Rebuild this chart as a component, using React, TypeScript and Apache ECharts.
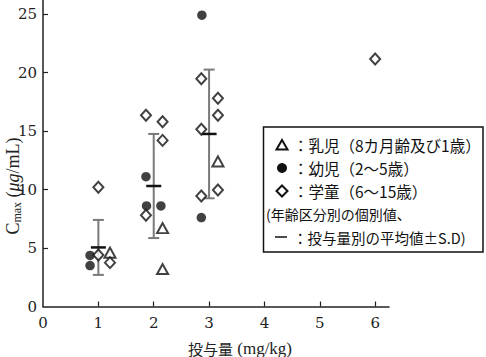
import React, { useEffect, useRef } from "react";
import * as echarts from "echarts";

// Individual values by age group: [dose (jittered position), Cmax]
const infantPoints: number[][] = [
  [1.21, 4.6], [2.16, 6.7], [2.16, 3.2], [3.16, 12.4],
];
const toddlerPoints: number[][] = [
  [0.85, 4.37], [0.85, 3.5], [1.86, 11.1], [1.87, 8.6], [2.13, 8.6], [2.87, 24.9], [2.86, 7.6],
];
const schoolPoints: number[][] = [
  [1.0, 10.2], [1.0, 4.4], [1.21, 3.75],
  [1.86, 16.35], [2.16, 15.8], [2.16, 14.2], [1.86, 7.8],
  [2.86, 19.47], [3.16, 17.8], [3.16, 16.35], [2.86, 15.15], [2.86, 9.45], [3.16, 9.95],
  [6.0, 21.15],
];

// Mean ± SD by dose
const doses = [1, 2, 3];
const means = [5.05, 10.3, 14.75];
const sds = [2.35, 4.45, 5.5];

const xTicks = [0, 1, 2, 3, 4, 5, 6];
const yTicks = [0, 5, 10, 15, 20, 25];

const legendRows = [
  "：乳児（8カ月齢及び1歳）",
  "：幼児（2～5歳）",
  "：学童（6～15歳）",
  "(年齢区分別の個別値、",
  "：投与量別の平均値±S.D)",
];

const SERIF = "DejaVu Serif";
const SERIF2 = "Liberation Serif";
const CJK = "Noto Sans CJK JP";

export default function App() {
  const ref = useRef<HTMLDivElement>(null);
  useEffect(() => {
    if (!ref.current) return;
    const chart = echarts.init(ref.current, null, { renderer: "svg" });
    const errData = doses.map((d, i) => [d, means[i], sds[i]]);
    const rowY = [145, 168, 191, 214, 237];
    chart.setOption({
      animation: false,
      backgroundColor: "#ffffff",
      textStyle: { fontFamily: SERIF2 },
      grid: { left: 43, right: 97, top: 0, bottom: 50.5, containLabel: false },
      xAxis: {
        type: "value",
        min: 0,
        max: 6.25,
        interval: 1,
        axisLine: { show: true, onZero: false, lineStyle: { color: "#222", width: 1.5 } },
        axisTick: { show: true, inside: true, length: 5, customValues: xTicks.slice(1), lineStyle: { color: "#222", width: 1.2 } },
        axisLabel: {
          margin: 9,
          fontSize: 15,
          color: "#222",
          fontFamily: SERIF,
          showMaxLabel: false,
          formatter: (v: number) => (xTicks.indexOf(v) >= 0 ? String(v) : ""),
        },
        splitLine: { show: false },
      },
      yAxis: {
        type: "value",
        min: 0,
        max: 26.2,
        interval: 5,
        axisLine: { show: true, onZero: false, lineStyle: { color: "#222", width: 1.5 } },
        axisTick: { show: true, inside: true, length: 5, customValues: yTicks.slice(1), lineStyle: { color: "#222", width: 1.2 } },
        axisLabel: {
          margin: 6,
          fontSize: 15,
          color: "#222",
          fontFamily: SERIF,
          showMaxLabel: false,
          formatter: (v: number) => (yTicks.indexOf(v) >= 0 ? String(v) : ""),
        },
        splitLine: { show: false },
      },
      series: [
        {
          type: "custom",
          z: 1,
          data: errData,
          renderItem: (params: any, api: any) => {
            const x = api.value(0);
            const m = api.value(1);
            const s = api.value(2);
            const top = api.coord([x, m + s]);
            const bot = api.coord([x, m - s]);
            const mid = api.coord([x, m]);
            const gray = { stroke: "#7a7a7a", lineWidth: 2 };
            return {
              type: "group",
              children: [
                { type: "line", shape: { x1: top[0], y1: top[1], x2: bot[0], y2: bot[1] }, style: gray },
                { type: "line", shape: { x1: top[0] - 5.5, y1: top[1], x2: top[0] + 5.5, y2: top[1] }, style: gray },
                { type: "line", shape: { x1: bot[0] - 5.5, y1: bot[1], x2: bot[0] + 5.5, y2: bot[1] }, style: gray },
                { type: "line", shape: { x1: mid[0] - 7.5, y1: mid[1], x2: mid[0] + 7.5, y2: mid[1] }, style: { stroke: "#111", lineWidth: 2.5 } },
              ],
            };
          },
        },
        {
          name: "乳児",
          type: "scatter",
          z: 3,
          symbol: "triangle",
          symbolSize: [11, 10],
          itemStyle: { color: "#fff", borderColor: "#111", borderWidth: 2 },
          data: infantPoints,
        },
        {
          name: "幼児",
          type: "scatter",
          z: 3,
          symbol: "circle",
          symbolSize: 9.5,
          itemStyle: { color: "#111" },
          data: toddlerPoints,
        },
        {
          name: "学童",
          type: "scatter",
          z: 3,
          symbol: "diamond",
          symbolSize: [10, 11],
          itemStyle: { color: "#fff", borderColor: "#111", borderWidth: 2 },
          data: schoolPoints,
        },
      ],
      graphic: [
        {
          type: "text",
          x: 13,
          y: 186,
          rotation: Math.PI / 2,
          style: {
            text: "{c|C}{s|max}{p| (}{i|μg}{p|/mL)}",
            align: "center",
            verticalAlign: "middle",
            fill: "#222",
            rich: {
              c: { fontSize: 18, fontFamily: SERIF2, lineHeight: 20, verticalAlign: "middle" },
              s: { fontSize: 12, fontFamily: SERIF2, lineHeight: 20, verticalAlign: "bottom" },
              p: { fontSize: 18, fontFamily: SERIF2, lineHeight: 20 },
              i: { fontSize: 18, fontFamily: SERIF2, fontStyle: "italic", lineHeight: 20 },
            },
          },
        },
        {
          type: "text",
          x: 240,
          y: 348,
          style: {
            text: "{a|投与量}{b| (mg/kg)}",
            align: "center",
            verticalAlign: "middle",
            fill: "#222",
            rich: {
              a: { fontSize: 15, fontFamily: CJK },
              b: { fontSize: 17, fontFamily: SERIF2 },
            },
          },
        },
        {
          type: "rect",
          shape: { x: 263.5, y: 127, width: 219.5, height: 125 },
          style: { fill: "#fff", stroke: "#111", lineWidth: 1.5 },
          z: 10,
        },
        {
          type: "polygon",
          shape: { points: [[282, rowY[0] - 5], [287.5, rowY[0] + 4.5], [276.5, rowY[0] + 4.5]] },
          style: { fill: "none", stroke: "#111", lineWidth: 2 },
          z: 11,
        },
        {
          type: "circle",
          shape: { cx: 282, cy: rowY[1], r: 5 },
          style: { fill: "#111" },
          z: 11,
        },
        {
          type: "polygon",
          shape: { points: [[282, rowY[2] - 5.5], [287.5, rowY[2]], [282, rowY[2] + 5.5], [276.5, rowY[2]]] },
          style: { fill: "none", stroke: "#111", lineWidth: 2 },
          z: 11,
        },
        {
          type: "line",
          shape: { x1: 275, y1: rowY[4], x2: 287, y2: rowY[4] },
          style: { stroke: "#111", lineWidth: 1.5 },
          z: 11,
        },
        ...legendRows.map((t, i) => ({
          type: "text",
          x: i === 3 ? 266 : 293,
          y: rowY[i],
          z: 11,
          style: {
            text: t,
            align: "left",
            verticalAlign: "middle",
            fontSize: i < 3 ? 15.5 : i === 3 ? 14 : 14.5,
            fontFamily: CJK,
            fill: "#111",
          },
        })),
      ],
    });
    return () => chart.dispose();
  }, []);
  return (
    <div
      ref={ref}
      style={{ position: "fixed", left: 0, top: 0, width: 486, height: 357, background: "#fff" }}
    />
  );
}
